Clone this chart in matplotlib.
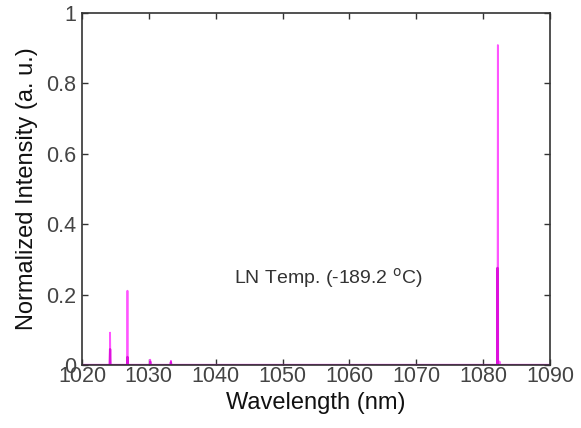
import matplotlib
matplotlib.use("Agg")
import matplotlib.pyplot as plt

plt.rcParams['font.family'] = ['Liberation Sans', 'DejaVu Sans']

# Spectrum A (bright magenta, tall lines)
wl_a = [1020.0, 1024.15, 1024.2, 1024.25, 1026.75, 1026.8, 1026.85,
        1030.15, 1030.2, 1030.25, 1033.25, 1033.3, 1033.35,
        1082.15, 1082.2, 1082.25, 1082.4, 1082.45, 1082.5, 1090.0]
int_a = [0.0, 0.0, 0.092, 0.0, 0.0, 0.211, 0.0,
         0.0, 0.015, 0.0, 0.0, 0.012, 0.0,
         0.0, 0.909, 0.0, 0.0, 0.01, 0.0, 0.0]

# Spectrum B (deeper magenta, lower lines)
wl_b = [1020.0, 1024.15, 1024.2, 1024.25, 1026.75, 1026.8, 1026.85,
        1030.15, 1030.2, 1030.25, 1033.25, 1033.3, 1033.35,
        1082.1, 1082.15, 1082.2, 1090.0]
int_b = [0.0, 0.0, 0.045, 0.0, 0.0, 0.023, 0.0,
         0.0, 0.01, 0.0, 0.0, 0.008, 0.0,
         0.0, 0.276, 0.0, 0.0]

x_ticks = [1020, 1030, 1040, 1050, 1060, 1070, 1080, 1090]
y_ticks = [0, 0.2, 0.4, 0.6, 0.8, 1]
y_tick_labels = ['0', '0.2', '0.4', '0.6', '0.8', '1']

fig = plt.figure(figsize=(5.81, 4.28), dpi=100)
ax = fig.add_axes([82/581, 1 - 365/428, (550-82)/581, (365-13)/428])

ax.plot(wl_a, int_a, color='#ff55ff', lw=1.3)
ax.plot(wl_b, int_b, color='#dd11dd', lw=1.6)

ax.set_xlim(1020, 1090)
ax.set_ylim(0, 1)
ax.set_xticks(x_ticks)
ax.set_yticks(y_ticks)
ax.set_yticklabels(y_tick_labels)
ax.tick_params(direction='in', length=4, width=1, top=True, right=True,
               labelsize=15.5, labelcolor='#444444', color='#333333')
ax.tick_params(axis='x', pad=1)
ax.tick_params(axis='y', pad=4)
for s in ax.spines.values():
    s.set_color('#333333')
    s.set_linewidth(1.2)

ax.set_xlabel('Wavelength (nm)', fontsize=17, color='#111111', labelpad=3)
ax.set_ylabel('Normalized Intensity (a. u.)', fontsize=17, color='#111111', labelpad=6)

ax.text(1056.8, 0.246, 'LN Temp. (-189.2 $^{\\mathrm{o}}$C)', fontsize=14,
        color='#333333', ha='center', va='center')

fig.savefig('out.png', dpi=100)
